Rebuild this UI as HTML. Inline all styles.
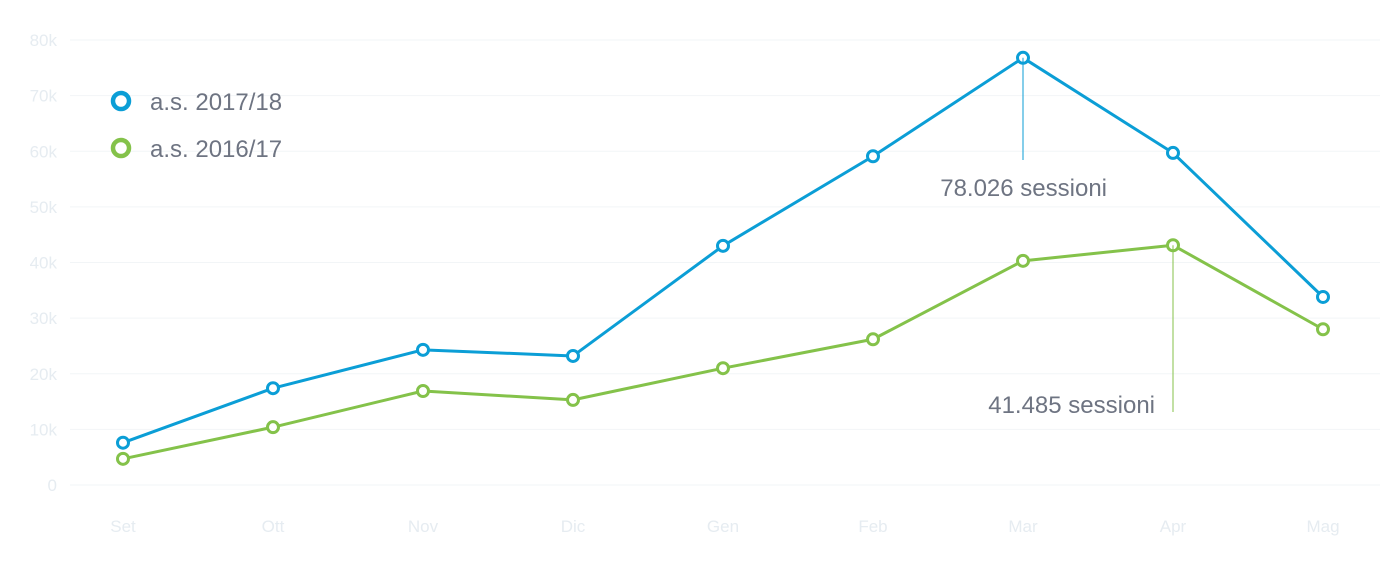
<!DOCTYPE html>
<html><head><meta charset="utf-8"><style>
html,body{margin:0;padding:0;background:#fff;}
svg{display:block;font-family:"Liberation Sans",sans-serif;}
</style></head><body>
<svg width="1400" height="562" viewBox="0 0 1400 562">
<g id="grid"></g>
<g id="yticks"></g>
<g id="xticks"></g>
<g id="series"></g>
<g>
 <g>
  <circle cx="121" cy="101" r="8" fill="#fff" stroke="#0b9ed6" stroke-width="4.5"/>
  <text x="150" y="110" font-size="24" fill="#6e7482">a.s. 2017/18</text>
 </g>
 <g>
  <circle cx="121" cy="148" r="8" fill="#fff" stroke="#84c24a" stroke-width="4.5"/>
  <text x="150" y="157" font-size="24" fill="#6e7482">a.s. 2016/17</text>
 </g>
</g>
<g id="annot"></g>
</svg>
<script>
const categories=["Set","Ott","Nov","Dic","Gen","Feb","Mar","Apr","Mag"];
const series2017=[7.6,17.4,24.3,23.2,43.0,59.1,76.8,59.7,33.8];
const series2016=[4.7,10.4,16.9,15.3,21.0,26.2,40.3,43.1,28.0];
const yTicks=[0,10,20,30,40,50,60,70,80];
const yTickLabels=["0","10k","20k","30k","40k","50k","60k","70k","80k"];
const annotations=[{series:0,index:6,label:"78.026 sessioni"},{series:1,index:7,label:"41.485 sessioni"}];
const NS="http://www.w3.org/2000/svg";
function x(i){return 123+i*150;}
function y(v){return 485-v*5.5625;}
function mk(tag,attrs,parent){const e=document.createElementNS(NS,tag);for(const k in attrs)e.setAttribute(k,attrs[k]);parent.appendChild(e);return e;}
const grid=document.getElementById('grid'),yt=document.getElementById('yticks'),xt=document.getElementById('xticks'),ser=document.getElementById('series'),an=document.getElementById('annot');
yTicks.forEach((t,i)=>{
 const l=mk('line',{x1:70,x2:1380,y1:y(t),y2:y(t),stroke:'#f2f5f7','stroke-width':1},grid);
 
 
 const tx=mk('text',{x:57,y:y(t)+6,'text-anchor':'end','font-size':17,fill:'#e6ecf1'},yt);
 tx.textContent=yTickLabels[i];
 
 
});
categories.forEach((c,i)=>{
 const tx=mk('text',{x:x(i),y:532,'text-anchor':'middle','font-size':17,fill:'#e6ecf1'},xt);
 tx.textContent=c;
 
 
});
const all=[{d:series2017,c:'#0b9ed6',n:'series-2017-18'},{d:series2016,c:'#84c24a',n:'series-2016-17'}];
all.forEach((s,si)=>{
 const p=mk('polyline',{points:s.d.map((v,i)=>x(i)+','+y(v)).join(' '),fill:'none',stroke:s.c,'stroke-width':3,'stroke-linejoin':'round'},ser);
 
 
});
annotations.forEach(a=>{
 const s=all[a.series];const px=x(a.index),py=y(s.d[a.index]);
 const ln=mk('line',{x1:px,x2:px,y1:py,y2:a.series===0?160:412,stroke:s.c,'stroke-width':1},an);
 
 
 const tx=mk('text',{x:a.series===0?px+84:px-18,y:a.series===0?196:413,'text-anchor':'end','font-size':24,fill:'#6e7482'},an);
 tx.textContent=a.label;
 
 
});
all.forEach(s=>{
 s.d.forEach((v,i)=>{
  const c=mk('circle',{cx:x(i),cy:y(v),r:5.5,fill:'#fff',stroke:s.c,'stroke-width':3},ser);
  
  
 });
});
</script>
</body></html>
